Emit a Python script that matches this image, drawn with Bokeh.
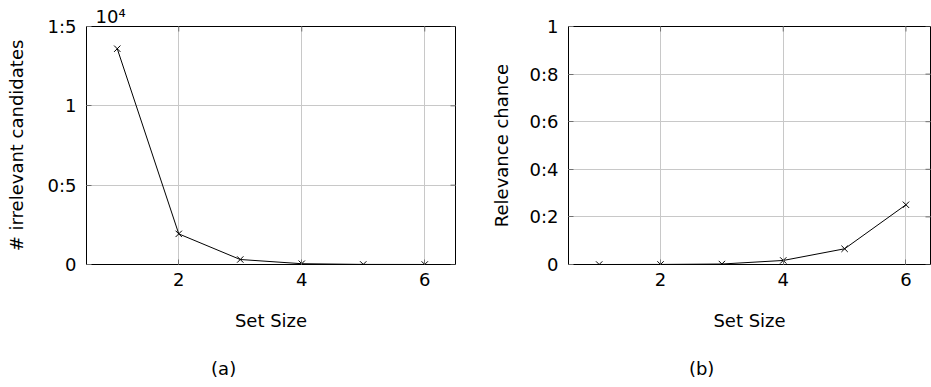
import math
from bokeh.plotting import figure
from bokeh.layouts import row
from bokeh.models import FixedTicker, Range1d, Title, LinearAxis
from bokeh.embed import file_html
from bokeh.resources import INLINE

set_size = [1, 2, 3, 4, 5, 6]
irrelevant = [13600, 1930, 315, 50, 5, 1]
relevance = [0.0, 0.0003, 0.002, 0.017, 0.066, 0.251]
x_ticks = [2, 4, 6]
left_y_ticks = [0, 5000, 10000, 15000]
left_y_labels = ["0", "0:5", "1", "1:5"]
right_y_ticks = [0, 0.2, 0.4, 0.6, 0.8, 1.0]
right_y_labels = ["0", "0:2", "0:4", "0:6", "0:8", "1"]
captions = ["(a)", "(b)"]
caption_x = [2.73, 2.67]

FONT = "DejaVu Sans"
FS = "18px"
TICK = "#707070"


def style_axis(ax):
    ax.axis_line_color = None
    ax.major_tick_in = 5
    ax.major_tick_out = 0
    ax.minor_tick_line_color = None
    ax.major_tick_line_color = TICK
    ax.major_label_text_font = FONT
    ax.major_label_text_font_size = FS
    ax.major_label_text_color = "black"
    ax.axis_label_text_font = FONT
    ax.axis_label_text_font_size = FS
    ax.axis_label_text_font_style = "normal"
    ax.axis_label_text_color = "black"


def make(width, bl, br, yr, yticks, ylabels, ylab, ys, caption, cap_x, ylab_standoff, xr_end):
    p = figure(width=width, height=387, output_backend="svg", toolbar_location=None,
               x_range=Range1d(0.5, xr_end), y_range=yr,
               min_border_left=bl, min_border_right=br, min_border_top=26, min_border_bottom=123)
    p.background_fill_color = "white"
    p.border_fill_color = "white"
    p.outline_line_color = "black"
    p.outline_line_width = 1
    p.xaxis.ticker = FixedTicker(ticks=x_ticks)
    p.yaxis.ticker = FixedTicker(ticks=yticks)
    p.yaxis.major_label_overrides = {t: l for t, l in zip(yticks, ylabels)}
    style_axis(p.xaxis[0])
    style_axis(p.yaxis[0])
    p.xaxis.axis_label = "Set Size"
    p.xaxis.major_label_standoff = 8
    p.xaxis.axis_label_standoff = 21
    p.yaxis.axis_label = ylab
    p.yaxis.major_label_standoff = 10
    p.yaxis.axis_label_standoff = ylab_standoff
    p.grid.grid_line_color = "#c8c8c8"
    p.grid.grid_line_width = 1

    # mirrored tick marks on top and right (half of each dash is clipped by the frame)
    p.scatter(x_ticks, [yr.end] * len(x_ticks), marker="dash", angle=math.pi / 2, size=10,
              line_color=TICK, line_width=1)
    p.scatter([xr_end] * len(yticks), yticks, marker="dash", size=10,
              line_color=TICK, line_width=1)

    p.line(set_size, ys, line_color="black", line_width=1)
    p.scatter(set_size, ys, marker="x", size=9, line_color="black", line_width=1)

    # caption as a tick-label-only axis below
    cap = LinearAxis(ticker=FixedTicker(ticks=[cap_x]), major_label_overrides={cap_x: caption})
    style_axis(cap)
    cap.major_tick_in = 0
    cap.major_tick_line_color = None
    cap.major_label_standoff = 24
    p.add_layout(cap, "below")
    return p


left = make(465, 86, 10, Range1d(0, 15000), left_y_ticks, left_y_labels,
            "# irrelevant candidates", irrelevant, captions[0], caption_x[0], 18, 6.5)
left.add_layout(Title(text="10\u2074", align="left", offset=9, text_font=FONT, text_font_size=FS,
                      text_font_style="normal", text_color="black", standoff=0), "above")

right = make(466, 103, 1, Range1d(0, 1), right_y_ticks, right_y_labels,
             "Relevance chance", relevance, captions[1], caption_x[1], 15, 6.4)

layout = row(left, right)
open("out.html", "w").write(file_html(layout, INLINE))
